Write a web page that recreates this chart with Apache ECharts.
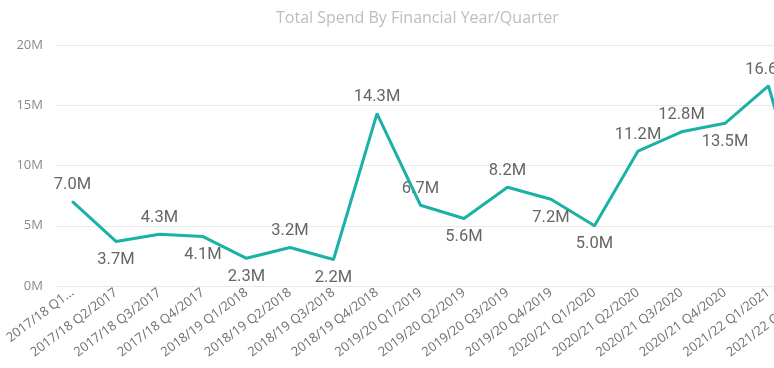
<!DOCTYPE html>
<html>
<head>
<meta charset="utf-8">
<script src="https://cdn.jsdelivr.net/npm/echarts@6/dist/echarts.min.js"></script>
<style>
html,body{margin:0;padding:0;overflow:hidden;background:#fff;width:774px;height:368px;}
#c{width:860px;height:368px;}
</style>
</head>
<body>
<div id="c"></div>
<script>
const categories = ["2017/18 Q1/2017","2017/18 Q2/2017","2017/18 Q3/2017","2017/18 Q4/2017","2018/19 Q1/2018","2018/19 Q2/2018","2018/19 Q3/2018","2018/19 Q4/2018","2019/20 Q1/2019","2019/20 Q2/2019","2019/20 Q3/2019","2019/20 Q4/2019","2020/21 Q1/2020","2020/21 Q2/2020","2020/21 Q3/2020","2020/21 Q4/2020","2021/22 Q1/2021","2021/22 Q2/2021"];
const tickLabels = ["2017/18 Q1...","2017/18 Q2/2017","2017/18 Q3/2017","2017/18 Q4/2017","2018/19 Q1/2018","2018/19 Q2/2018","2018/19 Q3/2018","2018/19 Q4/2018","2019/20 Q1/2019","2019/20 Q2/2019","2019/20 Q3/2019","2019/20 Q4/2019","2020/21 Q1/2020","2020/21 Q2/2020","2020/21 Q3/2020","2020/21 Q4/2020","2021/22 Q1/2021","2021/22 Q2/2021"];
const spendM = [7.0,3.7,4.3,4.1,2.3,3.2,2.2,14.3,6.7,5.6,8.2,7.2,5.0,11.2,12.8,13.5,16.6,4.0];
const yTicks = [0,5,10,15,20];
const labelBelow = [1,3,4,6,9,11,12,15];

const chart = echarts.init(document.getElementById('c'), null, {renderer:'canvas'});
const seriesData = spendM.map((v,i)=>({
  value: v,
  label: {show:true, position: labelBelow.includes(i) ? 'bottom' : 'top', distance: labelBelow.includes(i) ? 9 : 7}
}));
chart.setOption({
  animation:false,
  title:{
    text:'Total Spend By Financial Year/Quarter',
    left:271, top:5,
    textStyle:{fontFamily:'Open Sans', fontSize:16, fontWeight:'normal', color:'#BDBDBD'}
  },
  grid:[
    {left:56, right:0, top:45, bottom:82},
    {left:72.5, width:739.5, top:45, bottom:82}
  ],
  xAxis:[
    {gridIndex:0, type:'value', show:false, min:0, max:1},
    {gridIndex:1, type:'category', data:categories, boundaryGap:false,
     axisLine:{show:false}, axisTick:{show:false},
     axisLabel:{rotate:37, margin:5, interval:0, color:'#707070', fontFamily:'Open Sans', fontSize:13,
       formatter:(v,i)=>tickLabels[i]}}
  ],
  yAxis:[
    {gridIndex:0, type:'value', min:yTicks[0], max:yTicks[yTicks.length-1], interval:5,
     axisLine:{show:false}, axisTick:{show:false},
     splitLine:{lineStyle:{color:'#E9E9E9', width:1}},
     axisLabel:{margin:13, color:'#8A8A8A', fontFamily:'Open Sans', fontSize:13, formatter:v=>v+'M'}},
    {gridIndex:1, type:'value', min:yTicks[0], max:yTicks[yTicks.length-1], show:false}
  ],
  series:[{
    type:'line', xAxisIndex:1, yAxisIndex:1,
    data:seriesData,
    symbol:'circle', symbolSize:2, showSymbol:true, showAllSymbol:true,
    itemStyle:{color:'#1AB1A6'},
    lineStyle:{color:'#1AB1A6', width:3},
    label:{show:true, color:'#666666', fontFamily:'Roboto', fontSize:16.5,
      formatter:p=>Number(p.value).toFixed(1)+'M'}
  }]
});
</script>
</body>
</html>
